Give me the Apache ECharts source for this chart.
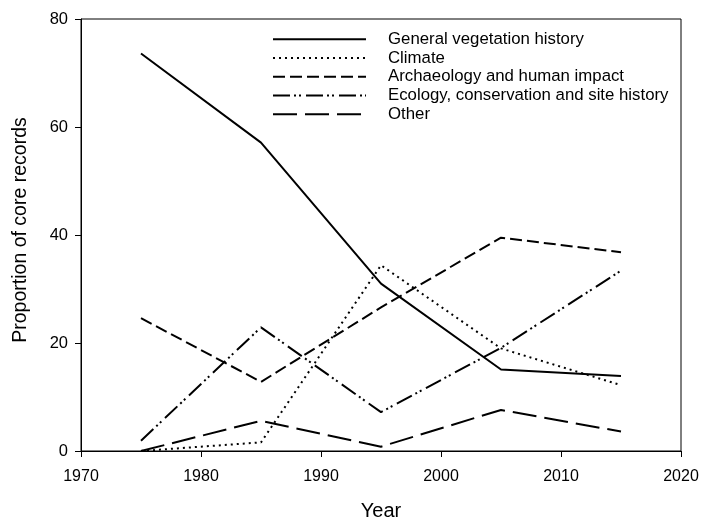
<!DOCTYPE html>
<html>
<head>
<meta charset="utf-8">
<script src="https://cdn.jsdelivr.net/npm/echarts@6/dist/echarts.min.js"></script>
<style>html,body{margin:0;padding:0;background:#fff;}#c{width:702px;height:518px;}</style>
</head>
<body>
<div id="c"></div>
<script>
var years = [1975, 1985, 1995, 2005, 2015];
var seriesNames = ["General vegetation history", "Climate", "Archaeology and human impact", "Ecology, conservation and site history", "Other"];
var general = [73.6, 57.1, 31.0, 15.1, 13.9];
var climate = [0, 1.6, 34.4, 19.0, 12.2];
var archaeology = [24.6, 12.8, 26.6, 39.5, 36.8];
var ecology = [1.9, 22.9, 7.2, 19.1, 33.4];
var other = [0, 5.6, 0.8, 7.6, 3.6];
var xTicks = [1970, 1980, 1990, 2000, 2010, 2020];
var yTicks = [0, 20, 40, 60, 80];

var values = [general, climate, archaeology, ecology, other];
var dashes = ['solid', [2, 4], [12, 5], [17, 4, 2, 3, 2, 5], [24, 8]];

function pairs(v) { return years.map(function (y, i) { return [y, v[i]]; }); }

var chart = echarts.init(document.getElementById('c'), null, { renderer: 'canvas' });
var font = 'Liberation Sans, Arial, sans-serif';
chart.setOption({
  backgroundColor: '#fff',
  animation: false,
  textStyle: { fontFamily: font, color: '#000' },
  grid: { left: 81, right: 21, top: 19, bottom: 67, show: true, borderColor: '#000', borderWidth: 1, backgroundColor: 'transparent', containLabel: false, outerBoundsMode: 'none' },
  legend: {
    left: 267, top: 25, orient: 'vertical',
    itemWidth: 93, itemHeight: 10, itemGap: 0,
    data: seriesNames,
    itemStyle: { color: 'rgba(0,0,0,0)', borderColor: 'rgba(0,0,0,0)', borderWidth: 0, opacity: 0 },
    textStyle: { fontSize: 16.8, color: '#000', fontFamily: font, lineHeight: 18.7, padding: [0, 0, 0, 17] },
    inactiveColor: '#000'
  },
  xAxis: {
    type: 'value', min: xTicks[0], max: xTicks[xTicks.length - 1], interval: 10,
    name: 'Year', nameLocation: 'middle', nameGap: 50,
    nameTextStyle: { fontSize: 20, color: '#000', fontFamily: font },
    axisLine: { show: true, lineStyle: { color: '#000', width: 1 } },
    axisTick: { show: true, inside: false, length: 6, lineStyle: { color: '#000' } },
    axisLabel: { fontSize: 16, color: '#000', margin: 18, fontFamily: font, formatter: function (v) { return String(v); } },
    splitLine: { show: false }
  },
  yAxis: {
    type: 'value', min: yTicks[0], max: yTicks[yTicks.length - 1], interval: 20,
    name: 'Proportion of core records', nameLocation: 'middle', nameGap: 50,
    nameTextStyle: { fontSize: 19.5, color: '#000', fontFamily: font, padding: [0, 0, 0, 10] },
    axisLine: { show: true, lineStyle: { color: '#000', width: 1 } },
    axisTick: { show: true, inside: false, length: 6, lineStyle: { color: '#000' } },
    axisLabel: { fontSize: 16.5, color: '#000', margin: 13, fontFamily: font },
    splitLine: { show: false }
  },
  series: values.map(function (v, i) {
    return {
      name: seriesNames[i], type: 'line', data: pairs(v),
      symbol: 'none', showSymbol: false,
      lineStyle: { color: '#000', width: 2, type: dashes[i], cap: 'butt' },
      itemStyle: { color: '#000' },
      clip: false
    };
  })
});
</script>
</body>
</html>
